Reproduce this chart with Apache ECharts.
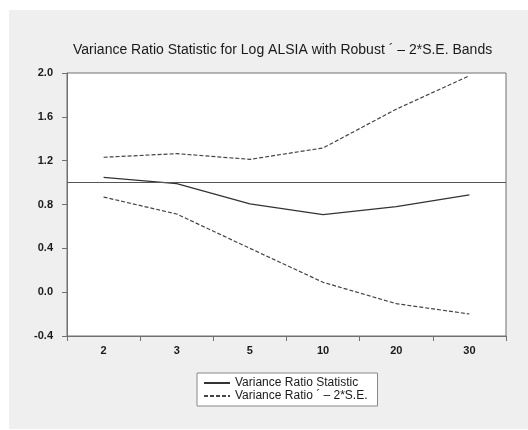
<!DOCTYPE html>
<html>
<head>
<meta charset="utf-8">
<script src="https://cdn.jsdelivr.net/npm/echarts@6/dist/echarts.min.js"></script>
<style>html,body{margin:0;padding:0;background:#fff;}#c{width:528px;height:430px;}</style>
</head>
<body>
<div id="c"></div>
<script>
var categories = ['2', '3', '5', '10', '20', '30'];
var varianceRatio = [1.048, 0.990, 0.805, 0.707, 0.780, 0.887];
var upperBand = [1.231, 1.264, 1.212, 1.316, 1.670, 1.975];
var lowerBand = [0.868, 0.713, 0.400, 0.090, -0.105, -0.199];
var yTicks = [-0.4, 0.0, 0.4, 0.8, 1.2, 1.6, 2.0];
var refLine = 1.0;
var titleText = 'Variance Ratio Statistic for Log ALSIA with Robust \u00b4 \u2013 2*S.E. Bands';
var nameStat = 'Variance Ratio Statistic';
var nameBand = 'Variance Ratio \u00b4 \u2013 2*S.E.';

var font = 'Liberation Sans, Arial, sans-serif';
var chart = echarts.init(document.getElementById('c'), null, {renderer: 'canvas'});
chart.setOption({
  animation: false,
  backgroundColor: '#ffffff',
  graphic: [{
    type: 'rect', z: -10, silent: true,
    shape: {x: 9, y: 10, width: 519, height: 419},
    style: {fill: '#efefef'}
  }],
  title: {
    text: titleText,
    left: 68, top: 38,
    textStyle: {fontFamily: font, fontSize: 14, fontWeight: 'normal', color: '#1a1a1a'}
  },
  legend: {
    orient: 'vertical',
    left: 197, top: 373,
    padding: [4, 10, 4, 6],
    itemGap: 1,
    itemWidth: 26, itemHeight: 12,
    backgroundColor: '#ffffff',
    borderColor: '#888888', borderWidth: 1,
    itemStyle: {opacity: 0},
    textStyle: {fontFamily: font, fontSize: 12, color: '#1a1a1a'},
    data: [nameStat, nameBand]
  },
  grid: {
    left: 67, right: 22, top: 73, bottom: 94,
    show: true, backgroundColor: '#ffffff', borderColor: '#707070', borderWidth: 1,
    containLabel: false
  },
  xAxis: {
    type: 'category',
    data: categories,
    boundaryGap: true,
    axisLine: {onZero: false, lineStyle: {color: '#707070', width: 1}},
    axisTick: {show: true, length: 5, lineStyle: {color: '#707070'}},
    axisLabel: {margin: 9, fontFamily: font, fontSize: 11, color: '#1a1a1a', fontWeight: 'bold'},
    splitLine: {show: false}
  },
  yAxis: {
    type: 'value',
    min: yTicks[0], max: yTicks[yTicks.length - 1], interval: 0.4,
    axisLine: {show: true, lineStyle: {color: '#707070', width: 1}},
    axisTick: {show: true, length: 5, lineStyle: {color: '#707070'}},
    axisLabel: {margin: 14, fontFamily: font, fontSize: 11, color: '#1a1a1a', fontWeight: 'bold',
      formatter: function (v) { return v.toFixed(1); }},
    splitLine: {show: false}
  },
  series: [
    {
      name: nameStat, type: 'line', data: varianceRatio, symbol: 'none',
      lineStyle: {color: '#333', width: 1.2, type: 'solid'},
      itemStyle: {color: '#333'},
      markLine: {
        silent: true, symbol: ['none', 'none'],
        label: {show: false},
        lineStyle: {color: '#555', width: 1, type: 'solid'},
        data: [{yAxis: refLine}]
      }
    },
    {
      name: nameBand, type: 'line', data: upperBand, symbol: 'none',
      lineStyle: {color: '#444', width: 1.2, type: [4, 2]},
      itemStyle: {color: '#444'}
    },
    {
      name: nameBand, type: 'line', data: lowerBand, symbol: 'none',
      lineStyle: {color: '#444', width: 1.2, type: [4, 2]},
      itemStyle: {color: '#444'}
    }
  ]
});
</script>
</body>
</html>
